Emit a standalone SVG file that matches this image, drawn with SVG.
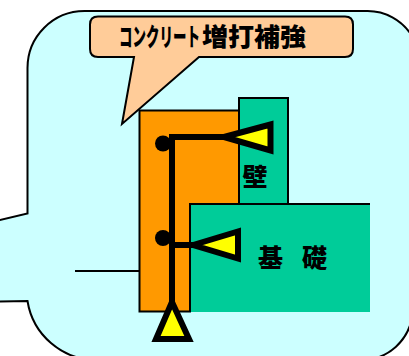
<svg xmlns="http://www.w3.org/2000/svg" width="409" height="356" viewBox="0 0 409 356">
<style>
.t{font-family:"Noto Sans CJK JP","Noto Sans CJK SC",sans-serif;font-weight:900;fill:#000}
.k{fill:#00cc99}
.s{stroke:#000;fill:none}
.y{fill:#ffff00;stroke:#000;stroke-width:6;stroke-linejoin:miter}
</style>
<g id="background">
<path d="M-4 221L27.500 213.500V68A57 57 0 0 1 84.500 11H366A52 52 0 0 1 412 36V318A52 52 0 0 1 366 360H96A70 70 0 0 1 27.500 301L-4 301.500Z" fill="#ccffff" stroke="#000" stroke-width="2"/>
</g>
<g id="connectors">
<path class="s" d="M75 271H139" stroke-width="2"/>
</g>
<g id="wall">
<rect class="k" x="239" y="98" width="49" height="106"/>
<path class="s" d="M239 204V98H288V204" stroke-width="2"/>
<text class="t" x="242.500" y="186" font-size="25">壁</text>
</g>
<g id="reinforcement">
<path d="M139.500 110.500H239V204H190V311.500H139.500Z" fill="#ff9900" stroke="#000" stroke-width="2"/>
</g>
<g id="foundation">
<rect class="k" x="190" y="204" width="180" height="108"/>
<path class="s" d="M190 312V204H370" stroke-width="2"/>
<text class="t" x="258 283 302" y="267" font-size="25">基 礎</text>
</g>
<g id="callout">
<path d="M98 16.500H345Q353 16.500 353 24.500V49Q353 57 345 57H199L122 124L134 57H98Q90 57 90 49V24.500Q90 16.500 98 16.500Z" fill="#ffcc99" stroke="#000" stroke-width="2"/>
<text class="t" transform="translate(119 46) scale(.54 1)" font-size="25">コンクリート</text>
<text class="t" x="202" y="46" font-size="25" textLength="104" lengthAdjust="spacingAndGlyphs">増打補強</text>
</g>
<g id="anchor">
<circle cx="163" cy="143.500" r="8"/>
<circle cx="163" cy="238" r="8"/>
<path class="s" d="M172 302V137H226M172 245H196" stroke-width="6"/>
<path class="y" d="M224 137L270.500 124.500V150.500Z"/>
<path class="y" d="M193 245L238 231.500V258.500Z"/>
<path class="y" d="M172 302L156 339H189Z"/>
</g>
</svg>
